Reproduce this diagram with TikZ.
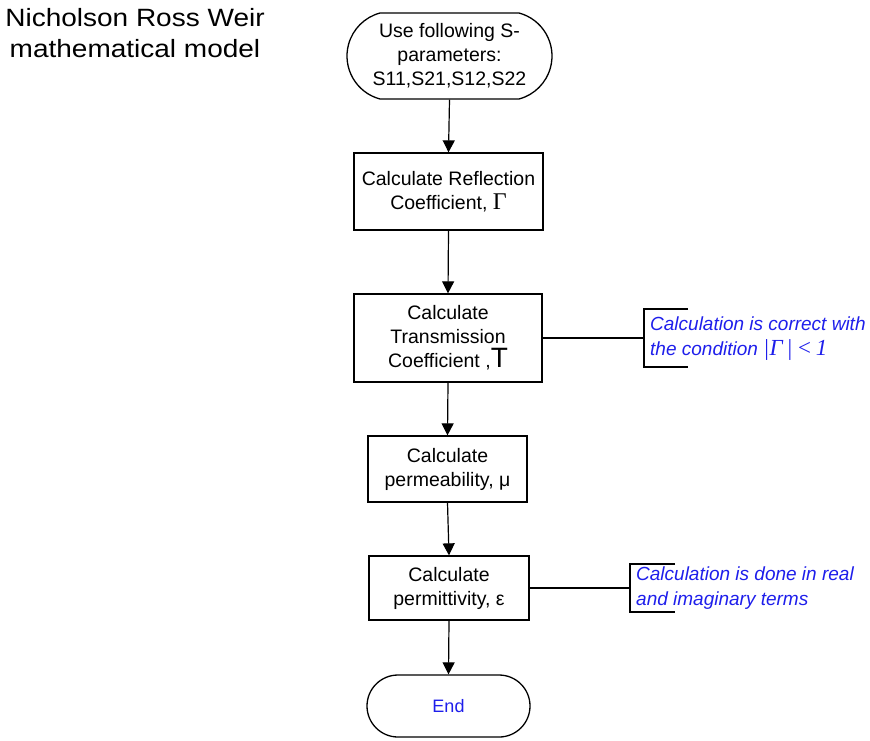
\documentclass[tikz,border=0pt]{standalone}
\usepackage{fontspec}
\setmainfont{Liberation Sans}
\newfontfamily\seriffam{Liberation Serif}
\usetikzlibrary{shapes.misc,arrows.meta}
\definecolor{annblue}{RGB}{30,30,235}
\begin{document}
\begin{tikzpicture}[x=1pt,y=-1pt,
  boxtext/.style={font=\fontsize{19.5}{24}\selectfont, align=center, inner sep=0pt},
  procbox/.style={boxtext, draw, line width=1.3pt, rectangle},
  termbox/.style={boxtext, draw, line width=1.3pt, rounded rectangle},
  flow/.style={line width=1.2pt, -{Triangle[width=12pt,length=12pt]}},
  link/.style={line width=1.2pt},
  bracket/.style={line width=1.2pt},
  anntext/.style={font=\fontsize{19}{25}\selectfont\itshape, text=annblue, align=left, inner sep=0pt, anchor=west}
]
\useasboundingbox (0,0) rectangle (870,740);

\node[font=\fontsize{25}{31}\selectfont, align=center, xscale=1.12, inner sep=0pt] (title) at (135,33)
  {Nicholson Ross Weir\\mathematical model};

\node[termbox, minimum width=205pt, minimum height=86pt, rounded rectangle arc length=150] (start) at (449.5,56)
  {Use following S-\\parameters:\\S11,S21,S12,S22};

\node[procbox, minimum width=189pt, minimum height=77pt] (refl) at (448.5,191.5)
  {Calculate Reflection\\Coefficient, {\seriffam\fontsize{24}{24}\selectfont Γ}};

\node[procbox, minimum width=188pt, minimum height=88pt] (trans) at (448,338)
  {Calculate\\Transmission\\Coefficient ,{\fontsize{28}{24}\selectfont T}};

\node[procbox, minimum width=159pt, minimum height=66pt] (perm) at (447.5,469)
  {Calculate\\permeability, μ};

\node[procbox, minimum width=160pt, minimum height=64pt] (pmtv) at (449,588)
  {Calculate\\permittivity, ε};

\node[termbox, minimum width=163pt, minimum height=62pt, font=\fontsize{18}{20}\selectfont, text=annblue] (end) at (448.5,706)
  {End};

\draw[flow] (start.south) -- (refl.north);
\draw[flow] (refl.south) -- (trans.north);
\draw[flow] (trans.south) -- (perm.north);
\draw[flow] (perm.south) -- (pmtv.north);
\draw[flow] (pmtv.south) -- (end.north);

% annotation 1
\coordinate (b1) at (644,338);
\draw[link] (trans.east) -- (b1);
\draw[bracket] (688,309) -- (644,309) -- (644,367) -- (688,367);
\node[anntext] (ann1) at (650,339)
  {Calculation is correct with\\the condition {\seriffam\fontsize{23}{25}\selectfont |Γ\,|\,<\,1}};

% annotation 2
\coordinate (b2) at (630,588);
\draw[link] (pmtv.east) -- (b2);
\draw[bracket] (675,564) -- (630,564) -- (630,612) -- (675,612);
\node[anntext] (ann2) at (636,588)
  {Calculation is done in real\\and imaginary terms};
\end{tikzpicture}
\end{document}
